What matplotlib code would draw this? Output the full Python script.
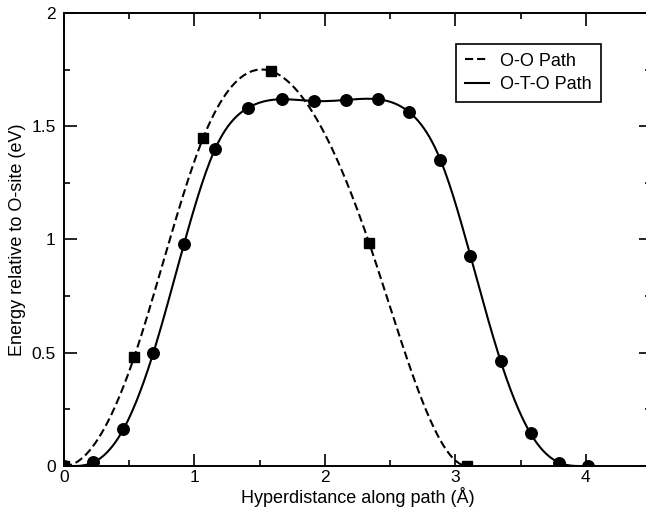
import numpy as np
import matplotlib.pyplot as plt
from matplotlib.ticker import MultipleLocator

plt.rcParams['font.family'] = ['Liberation Sans', 'DejaVu Sans']

# O-O path (squares)
oo_x = [0.0, 0.539, 1.067, 1.584, 2.34, 3.093]
oo_e = [0.0, 0.483, 1.449, 1.744, 0.983, 0.0]

# O-T-O path (circles)
oto_x = [0.0, 0.225, 0.455, 0.685, 0.92, 1.157, 1.413, 1.668, 1.916,
         2.161, 2.404, 2.646, 2.886, 3.116, 3.346, 3.576, 3.796, 4.018]
oto_e = [0.0, 0.016, 0.162, 0.50, 0.98, 1.398, 1.582, 1.619, 1.611,
         1.616, 1.619, 1.562, 1.351, 0.927, 0.465, 0.144, 0.015, 0.0]


def clamped_spline(x, y, n=400):
    """Smooth curve through the points (cubic spline, flat at both ends)."""
    x = np.asarray(x, float)
    y = np.asarray(y, float)
    k = len(x)
    h = np.diff(x)
    A = np.zeros((k, k))
    r = np.zeros(k)
    A[0, 0], A[0, 1] = 2 * h[0], h[0]
    r[0] = 6 * ((y[1] - y[0]) / h[0])
    A[-1, -2], A[-1, -1] = h[-1], 2 * h[-1]
    r[-1] = 6 * (0 - (y[-1] - y[-2]) / h[-1])
    for i in range(1, k - 1):
        A[i, i - 1] = h[i - 1]
        A[i, i] = 2 * (h[i - 1] + h[i])
        A[i, i + 1] = h[i]
        r[i] = 6 * ((y[i + 1] - y[i]) / h[i] - (y[i] - y[i - 1]) / h[i - 1])
    m = np.linalg.solve(A, r)
    xs = np.linspace(x[0], x[-1], n)
    idx = np.clip(np.searchsorted(x, xs) - 1, 0, k - 2)
    x0, x1 = x[idx], x[idx + 1]
    hh = x1 - x0
    a = (x1 - xs) / hh
    b = (xs - x0) / hh
    ys = (a * y[idx] + b * y[idx + 1]
          + ((a ** 3 - a) * m[idx] + (b ** 3 - b) * m[idx + 1]) * hh ** 2 / 6)
    return xs, ys


fig = plt.figure(figsize=(6.46, 5.16), dpi=100)
ax = fig.add_axes([0.0991, 0.0969, 0.9087, 0.878])

sx, sy = clamped_spline(oo_x, oo_e)
ax.plot(sx, sy, color='black', lw=1.5, dashes=[3.9, 1.9], label='O-O Path')
ax.plot(oo_x, oo_e, 's', color='black', ms=7.5, ls='none')

sx, sy = clamped_spline(oto_x, oto_e)
ax.plot(sx, sy, color='black', lw=1.5, label='O-T-O Path')
ax.plot(oto_x, oto_e, 'o', color='black', ms=8.3, ls='none')

ax.set_xlim(0, 4.5)
ax.set_ylim(0, 2)
ax.xaxis.set_minor_locator(MultipleLocator(0.5))
ax.yaxis.set_minor_locator(MultipleLocator(0.25))
ax.set_xticks([0, 1, 2, 3, 4])
ax.set_xticklabels(['0', '1', '2', '3', '4'])
ax.set_yticks([0, 0.5, 1, 1.5, 2])
ax.set_yticklabels(['0', '0.5', '1', '1.5', '2'])

ax.tick_params(which='both', direction='in', top=True, right=True,
               labelsize=12.5, width=1.2)
ax.tick_params(axis='y', which='major', length=9, pad=6)
ax.tick_params(axis='x', which='major', length=9, pad=3)
ax.tick_params(which='minor', length=4.5)
for s in ax.spines.values():
    s.set_linewidth(1.4)

ax.set_xlabel('Hyperdistance along path (Å)', fontsize=13, labelpad=1)
ax.set_ylabel('Energy relative to O-site (eV)', fontsize=13, labelpad=4)

leg = ax.legend(loc='upper left', bbox_to_anchor=(0.668, 0.932),
                borderaxespad=0, fontsize=13, fancybox=False,
                edgecolor='black', framealpha=1, handlelength=1.3,
                labelspacing=0.35, borderpad=0.5, handletextpad=0.65)
leg.get_frame().set_linewidth(1.2)

fig.savefig('out.png', dpi=100)
